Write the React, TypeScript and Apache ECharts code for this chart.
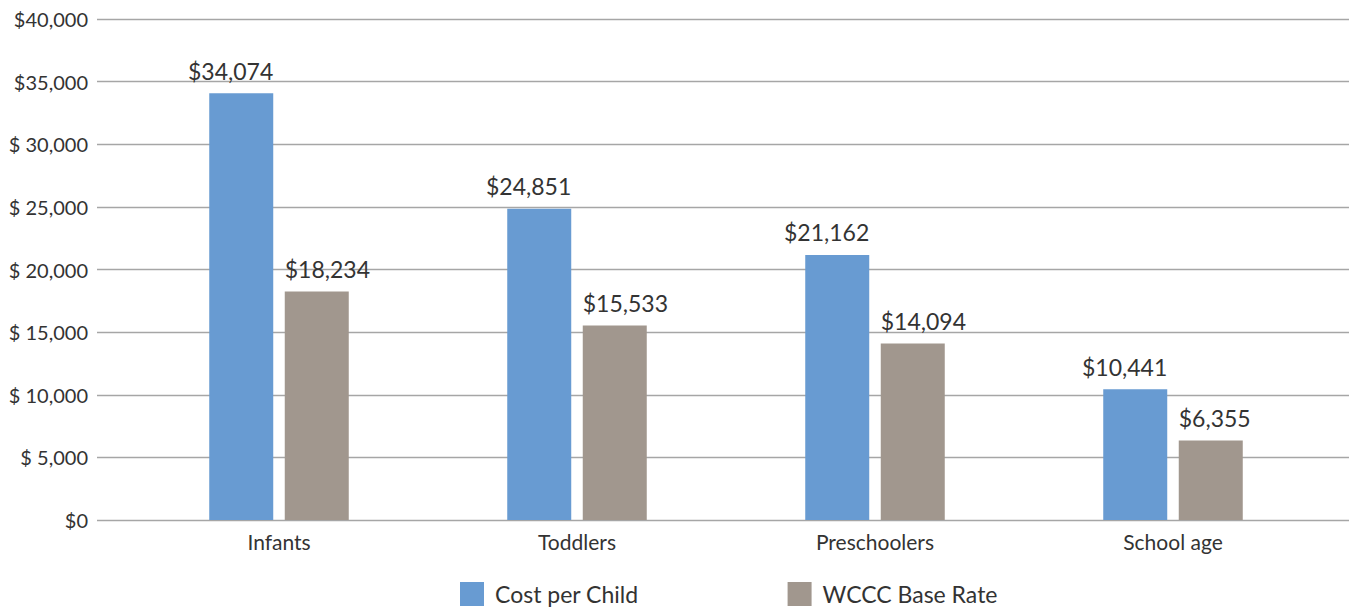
import React, { useEffect, useRef } from "react";
import * as echarts from "echarts";

const categories = ["Infants", "Toddlers", "Preschoolers", "School age"];
const costPerChild = [34074, 24851, 21162, 10441];
const wcccBaseRate = [18234, 15533, 14094, 6355];
const yTickValues = [0, 5000, 10000, 15000, 20000, 25000, 30000, 35000, 40000];
const yTickLabels = ["$0", "$ 5,000", "$ 10,000", "$ 15,000", "$ 20,000", "$ 25,000", "$ 30,000", "$35,000", "$40,000"];

const FONT = "Lato, 'Noto Sans', sans-serif";
const fmt = (v: number) => "$" + v.toLocaleString("en-US");

export default function App() {
  const ref = useRef<HTMLDivElement>(null);
  useEffect(() => {
    if (!ref.current) return;
    const chart = echarts.init(ref.current, undefined, { renderer: "svg" });
    chart.setOption({
      animation: false,
      textStyle: { fontFamily: FONT },
      legend: {
        data: ["Cost per Child", "WCCC Base Rate"],
        left: 460,
        top: 582,
        padding: 0,
        itemWidth: 24,
        itemHeight: 24,
        itemGap: 149,
        icon: "rect",
        textStyle: { fontSize: 23, color: "#333", fontFamily: FONT, padding: [0, 0, 0, 6] },
      },
      grid: [
        { left: 97, right: 0, top: 19, bottom: 93 },
        { left: 130, right: 27, top: 19, bottom: 93 },
      ],
      xAxis: [
        { type: "value", gridIndex: 0, show: false, min: 0, max: 1 },
        {
          type: "category",
          gridIndex: 1,
          data: categories,
          axisLine: { show: false },
          axisTick: { show: false },
          axisLabel: { fontSize: 21, color: "#333", margin: 11, fontFamily: FONT },
        },
      ],
      yAxis: [
        {
          type: "value",
          gridIndex: 0,
          min: 0,
          max: 40000,
          interval: 5000,
          axisLine: { show: false },
          axisTick: { show: false },
          axisLabel: {
            fontSize: 20,
            color: "#333",
            margin: 9,
            fontFamily: FONT,
            formatter: (v: number) => {
              const i = yTickValues.indexOf(v);
              return i >= 0 ? yTickLabels[i] : "";
            },
          },
          splitLine: { show: true, lineStyle: { color: "#a6a6a6", width: 1.3 } },
        },
        { type: "value", gridIndex: 1, min: 0, max: 40000, interval: 5000, show: false, splitLine: { show: false } },
      ],
      series: [
        {
          name: "Cost per Child",
          type: "bar",
          xAxisIndex: 1,
          yAxisIndex: 1,
          data: costPerChild,
          barWidth: 64,
          barGap: "18%",
          itemStyle: { color: "#689bd2" },
          label: {
            show: true,
            position: "top",
            distance: 11,
            align: "right",
            offset: [32, 0],
            fontSize: 23,
            color: "#333",
            fontFamily: FONT,
            formatter: (p: any) => fmt(p.value),
          },
        },
        {
          name: "WCCC Base Rate",
          type: "bar",
          xAxisIndex: 1,
          yAxisIndex: 1,
          data: wcccBaseRate,
          barWidth: 64,
          barGap: "18%",
          itemStyle: { color: "#a1978e" },
          label: {
            show: true,
            position: "top",
            distance: 11,
            align: "left",
            offset: [-32, 0],
            fontSize: 23,
            color: "#333",
            fontFamily: FONT,
            formatter: (p: any) => fmt(p.value),
          },
        },
      ],
    });
    return () => chart.dispose();
  }, []);
  return (
    <div
      ref={ref}
      style={{ position: "absolute", left: 0, top: 0, width: 1349, height: 613, background: "#fff" }}
    />
  );
}
